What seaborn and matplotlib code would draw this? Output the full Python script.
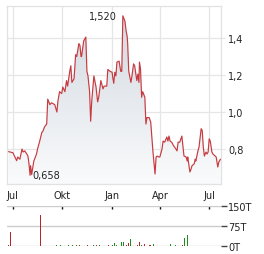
import numpy as np
import pandas as pd
import matplotlib
matplotlib.use("Agg")
import matplotlib.pyplot as plt
import matplotlib.dates as mdates
from matplotlib.colors import LinearSegmentedColormap
import seaborn as sns

# ---------------- data ----------------
price_dates = [
    "2023-06-23", "2023-07-01", "2023-07-08", "2023-07-10", "2023-07-14", "2023-07-18",
    "2023-07-20", "2023-07-23", "2023-07-27", "2023-07-29", "2023-07-31", "2023-08-02",
    "2023-08-03", "2023-08-05", "2023-08-09", "2023-08-14", "2023-08-16", "2023-08-20",
    "2023-08-24", "2023-08-26", "2023-08-29", "2023-09-02", "2023-09-04", "2023-09-08",
    "2023-09-11", "2023-09-17", "2023-09-21", "2023-09-23", "2023-09-26", "2023-09-30",
    "2023-10-02", "2023-10-06", "2023-10-09", "2023-10-11", "2023-10-15", "2023-10-17",
    "2023-10-19", "2023-10-23", "2023-10-26", "2023-10-28", "2023-11-01", "2023-11-03",
    "2023-11-05", "2023-11-06", "2023-11-10", "2023-11-14", "2023-11-16", "2023-11-18",
    "2023-11-21", "2023-11-23", "2023-11-25", "2023-11-29", "2023-12-03", "2023-12-06",
    "2023-12-08", "2023-12-12", "2023-12-16", "2023-12-18", "2023-12-23", "2023-12-25",
    "2023-12-29", "2024-01-02", "2024-01-03", "2024-01-05", "2024-01-07", "2024-01-09",
    "2024-01-11", "2024-01-15", "2024-01-18", "2024-01-20", "2024-01-22", "2024-01-26",
    "2024-01-28", "2024-01-30", "2024-01-31", "2024-02-02", "2024-02-06", "2024-02-08",
    "2024-02-11", "2024-02-13", "2024-02-17", "2024-02-19", "2024-02-21", "2024-02-22",
    "2024-02-24", "2024-02-26", "2024-02-28", "2024-03-03", "2024-03-05", "2024-03-07",
    "2024-03-11", "2024-03-14", "2024-03-16", "2024-03-18", "2024-03-22", "2024-03-24",
    "2024-03-26", "2024-03-29", "2024-03-31", "2024-04-04", "2024-04-06", "2024-04-09",
    "2024-04-13", "2024-04-15", "2024-04-17", "2024-04-19", "2024-04-22", "2024-04-26",
    "2024-04-30", "2024-05-02", "2024-05-04", "2024-05-07", "2024-05-11", "2024-05-13",
    "2024-05-15", "2024-05-19", "2024-05-21", "2024-05-22", "2024-05-26", "2024-05-28",
    "2024-05-30", "2024-06-03", "2024-06-05", "2024-06-06", "2024-06-10", "2024-06-12",
    "2024-06-16", "2024-06-18", "2024-06-20", "2024-06-22", "2024-06-25", "2024-06-27",
    "2024-06-29", "2024-07-01", "2024-07-03", "2024-07-06", "2024-07-08", "2024-07-12",
    "2024-07-14", "2024-07-17", "2024-07-19", "2024-07-22",
]
price_values = [
    0.786, 0.780, 0.737, 0.757, 0.745, 0.800,
    0.784, 0.790, 0.773, 0.762, 0.720, 0.658,
    0.710, 0.662, 0.735, 0.773, 0.800, 0.843,
    0.890, 0.897, 0.920, 0.935, 1.070, 1.040,
    1.050, 1.040, 1.000, 1.060, 1.110, 1.100,
    1.135, 1.110, 1.170, 1.140, 1.220, 1.250,
    1.160, 1.180, 1.310, 1.300, 1.370, 1.360,
    1.300, 1.300, 1.385, 1.405, 1.220, 1.195,
    1.110, 0.950, 1.060, 1.195, 1.135, 1.055,
    1.080, 1.170, 1.125, 1.140, 1.140, 1.230,
    1.220, 1.215, 1.190, 1.155, 1.215, 1.195,
    1.270, 1.275, 1.220, 1.220, 1.520, 1.490,
    1.440, 1.410, 1.370, 1.220, 1.160, 1.195,
    1.260, 1.250, 1.170, 1.205, 1.160, 1.270,
    1.230, 1.080, 1.110, 1.080, 0.935, 0.970,
    0.970, 0.945, 0.865, 0.790, 0.665, 0.757,
    0.762, 0.757, 0.757, 0.800, 0.843, 0.837,
    0.865, 0.843, 0.870, 0.843, 0.837, 0.816,
    0.800, 0.790, 0.837, 0.837, 0.870, 0.816,
    0.762, 0.757, 0.735, 0.757, 0.676, 0.690,
    0.710, 0.720, 0.745, 0.735, 0.790, 0.810,
    0.910, 0.900, 0.810, 0.762, 0.784, 0.773,
    0.784, 0.855, 0.843, 0.784, 0.773, 0.762,
    0.757, 0.703, 0.730, 0.745,
]

vol_dates = [
    "2023-06-22", "2023-06-27", "2023-07-31", "2023-08-21", "2023-08-22", "2023-09-21",
    "2023-09-27", "2023-10-12", "2023-10-20", "2023-10-28", "2023-11-03", "2023-11-17",
    "2023-11-28", "2023-12-04", "2023-12-10", "2023-12-16", "2023-12-27", "2024-01-02",
    "2024-01-06", "2024-01-10", "2024-01-20", "2024-01-23", "2024-01-26", "2024-01-29",
    "2024-02-01", "2024-02-06", "2024-02-18", "2024-02-22", "2024-02-26", "2024-03-02",
    "2024-03-07", "2024-03-11", "2024-03-14", "2024-03-20", "2024-04-19", "2024-04-30",
    "2024-05-12", "2024-05-16", "2024-05-21",
]
vol_values = [
    4, 52, 4, 4, 117, 4,
    4, 4, 4, 4, 4, 4,
    4, 4, 4, 4, 4, 4,
    12, 4, 15, 15, 15, 4,
    10, 27, 4, 15, 4, 8,
    4, 4, 4, 8, 8, 4,
    4, 30, 40,
]
vol_direction = [
    "down", "down", "down", "up", "down", "up",
    "up", "up", "up", "up", "down", "down",
    "up", "down", "up", "down", "down", "up",
    "up", "up", "up", "up", "down", "down",
    "down", "up", "down", "down", "up", "down",
    "down", "down", "down", "up", "up", "up",
    "down", "up", "up",
]

month_ticks = ["2023-07-01", "2023-10-01", "2024-01-01", "2024-04-01", "2024-07-01"]
month_labels = ["Jul", "Okt", "Jan", "Apr", "Jul"]
price_ticks = [0.8, 1.0, 1.2, 1.4]
vol_ticks = [0, 75, 150]
vol_tick_labels = ["0T", "75T", "150T"]

# ---------------- style ----------------
sns.set_theme(style="white")
plt.rcParams["font.family"] = ["DejaVu Sans"]

W, H = 264, 255
fig = plt.figure(figsize=(W / 100, H / 100), dpi=100)

def frac(l, t, r, b):
    return [l / W, 1 - b / H, (r - l) / W, (b - t) / H]

ax = fig.add_axes(frac(7, 7, 221, 185))
axv = fig.add_axes(frac(7, 207, 221, 247))

df = pd.DataFrame({"date": pd.to_datetime(price_dates), "price": price_values})
vdf = pd.DataFrame({"date": pd.to_datetime(vol_dates), "vol": vol_values, "dir": vol_direction})

xmin = pd.Timestamp("2023-06-20")
xmax = pd.Timestamp("2024-07-23")
ymin, ymax = 0.611, 1.573

line_color = "#c63a40"
text_color = "#222222"
grid_color = "#e6e6e6"

# gradient fill under the line
poly = ax.fill_between(df["date"], df["price"], ymin, color="none", lw=0)
cmap = LinearSegmentedColormap.from_list("g", ["#fafbfc", "#d0d7df"])
grad = np.linspace(0, 1, 256).reshape(-1, 1)
img = ax.imshow(grad, extent=[mdates.date2num(xmin), mdates.date2num(xmax), ymin, ymax],
                aspect="auto", cmap=cmap, origin="lower", zorder=1)
img.set_clip_path(poly.get_paths()[0], transform=ax.transData)

sns.lineplot(data=df, x="date", y="price", ax=ax, color=line_color, lw=0.85, zorder=3)

ax.set_xlim(xmin, xmax)
ax.set_ylim(ymin, ymax)
ax.set_xlabel("")
ax.set_ylabel("")

ax.set_xticks(pd.to_datetime(month_ticks))
ax.set_xticklabels(month_labels)
ax.yaxis.tick_right()
ax.set_yticks(price_ticks)
ax.set_yticklabels([f"{v:.1f}".replace(".", ",") for v in price_ticks])
ax.tick_params(axis="x", length=0, pad=4, labelsize=7, labelcolor=text_color)
ax.tick_params(axis="y", length=3, width=0.8, color=grid_color, pad=2, labelsize=7,
               labelcolor=text_color)
ax.grid(True, color=grid_color, lw=0.9)
for s in ax.spines.values():
    s.set_color("#e2e2e2")
    s.set_linewidth(0.9)
ax.set_facecolor("white")

# annotations for max / min
imax = int(np.argmax(df["price"].values))
imin = int(np.argmin(df["price"].values))
ax.annotate(f"{df['price'].iloc[imax]:.3f}".replace(".", ","),
            xy=(df["date"].iloc[imax], df["price"].iloc[imax]),
            xytext=(-4, 0), textcoords="offset points", ha="right", va="center",
            fontsize=7, color=text_color, zorder=5)
ax.annotate(f"{df['price'].iloc[imin]:.3f}".replace(".", ","),
            xy=(df["date"].iloc[imin], df["price"].iloc[imin]),
            xytext=(2, 0), textcoords="offset points", ha="left", va="center",
            fontsize=7, color=text_color, zorder=5)

# ---------------- volume panel ----------------
colors = {"up": "#1f8a1f", "down": "#b3262a"}
axv.bar(vdf["date"], vdf["vol"], width=1.8,
        color=[colors[d] for d in vdf["dir"]], zorder=3, lw=0)
axv.set_xlim(xmin, xmax)
axv.set_ylim(0, 150)
for s in axv.spines.values():
    s.set_visible(False)
axv.set_facecolor("white")
axv.grid(False)
for v in vol_ticks:
    axv.axhline(v, color="#cccccc", lw=1.0, zorder=1)
axv.yaxis.tick_right()
axv.set_yticks(vol_ticks)
axv.set_yticklabels(vol_tick_labels)
axv.tick_params(axis="y", length=4, width=1.0, color="#444444", pad=1, labelsize=7,
                labelcolor=text_color)
axv.xaxis.tick_top()
axv.set_xticks(pd.to_datetime(month_ticks))
axv.tick_params(axis="x", direction="in", length=2.5, width=1.0, color="#111111",
                labeltop=False, labelbottom=False, top=True, bottom=False)
axv.set_xlabel("")
axv.set_ylabel("")

fig.savefig("out.png", dpi=100)
